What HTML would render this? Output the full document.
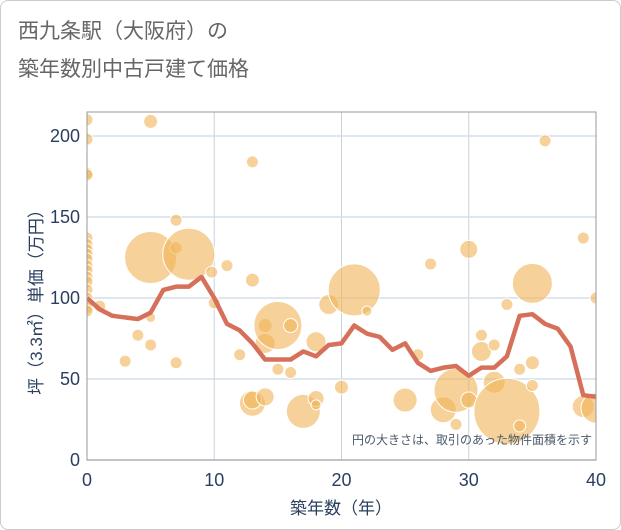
<!DOCTYPE html>
<html><head><meta charset="utf-8">
<style>
body{margin:0;background:#fff;}
#wrap{width:619px;height:528px;border:1px solid #ccc;border-radius:8px;position:relative;overflow:hidden;font-family:"Liberation Sans","Noto Sans CJK JP",sans-serif;}
</style></head><body>
<div id="wrap">
<svg id="chart" width="621" height="530" style="position:absolute;left:-1px;top:-1px">
<defs><clipPath id="plotclip"><rect x="87" y="112" width="509" height="348"/></clipPath></defs>
<text x="18" y="38" font-size="21" fill="#666" font-family="Liberation Sans, Noto Sans CJK JP, sans-serif">西九条駅（大阪府）の</text>
<text x="18" y="76" font-size="21" fill="#666" font-family="Liberation Sans, Noto Sans CJK JP, sans-serif">築年数別中古戸建て価格</text>
<g id="grid"></g><g id="bubbles" clip-path="url(#plotclip)"></g><g id="line" clip-path="url(#plotclip)"></g><g id="axes"></g>
<text x="592" y="444" font-size="12" fill="#4a5a6a" text-anchor="end" font-family="Liberation Sans, Noto Sans CJK JP, sans-serif">円の大きさは、取引のあった物件面積を示す</text>
<text x="341" y="514" font-size="17" fill="#2a3f5f" text-anchor="middle" font-family="Liberation Sans, Noto Sans CJK JP, sans-serif">築年数（年）</text>
<text transform="translate(42,298) rotate(-90)" font-size="17" fill="#2a3f5f" text-anchor="middle" font-family="Liberation Sans, Noto Sans CJK JP, sans-serif">坪（3.3㎡）単価（万円）</text>
</svg>
</div>
<script>
const xTicks=[0,10,20,30,40];
const yTicks=[0,50,100,150,200];
const lineYears=[0,1,2,3,4,5,6,7,8,9,10,11,12,13,14,15,16,17,18,19,20,21,22,23,24,25,26,27,28,29,30,31,32,33,34,35,36,37,38,39,40];
const lineValues=[100,93,89,88,87,91,105,107,107,113,100,84,80,72,62,62,62,67,64,71,72,83,78,76,68,72,60,55,57,58,52,57,57,64,89,90,84,81,70,40,39];
const bubbleX=[0,0,0,0,0,0,0,0,0,0,0,0,0,0,0,0,0,0,1,3,4,5,5,5,5,7,7,7,8,9.8,10,11,12,13,13,13,13,14,14,14,15,15,16,16,17,18,18,18,19,20,21,22,25,26,27,28,29,29,30,30,31,31,32,32,33,33,34,34,35,35,35,36,39,39,40,40];
const bubbleY=[210,198,177,176,137,133,130,127,124,120,117,113,110,105,100,97,94,92,95,61,77,209,125,88,71,148,131,60,127,116,97,120,65,184,111,35,37,83,72,39,83,56,83,54,30,38,73,34,96,45,105,92,37,65,121,31,43,22,130,37,77,67,71,48,30,96,56,21,109,60,46,197,137,33,100,32];
const bubbleR=[6,6,6,6,6,6,6,6,6,6,6,6,6,6,6,6,6,6,6,6,6,7,26,5,6,6,6,6,26,6,6,6,6,6,7,13,9,7,10,9,24,6,7,6,17,8,10,5,10,7,26,5,12,6,6,13,22,6,9,8,6,10,6,11,33,6,6,6,20,7,6,6,6,11,6,15];
const L=87,R=596,T=112,B=460;
const xs=v=>L+(R-L)*v/40, ys=v=>B-(B-136)*v/200;
const NS="http://www.w3.org/2000/svg";
function mk(tag,attrs,parent){const e=document.createElementNS(NS,tag);for(const k in attrs)e.setAttribute(k,attrs[k]);parent.appendChild(e);return e;}
const grid=document.getElementById('grid'),ax=document.getElementById('axes');
xTicks.forEach(t=>{
 const g=mk('line',{x1:xs(t),x2:xs(t),y1:T,y2:B,stroke:'#c8d2dc','stroke-width':1},grid);
 
 
 const tx=mk('text',{x:xs(t),y:486,'font-size':18,fill:'#2a3f5f','text-anchor':'middle'},ax);
 tx.textContent=t;
 
 
});
yTicks.forEach(t=>{
 const g=mk('line',{x1:L,x2:R,y1:ys(t),y2:ys(t),stroke:'#d4dfea','stroke-width':1.5},grid);
 
 
 const tx=mk('text',{x:80,y:ys(t)+6,'font-size':18,fill:'#2a3f5f','text-anchor':'end'},ax);
 tx.textContent=t;
 
 
});
const f=mk('rect',{x:L,y:T,width:R-L,height:B-T,fill:'none',stroke:'#999','stroke-width':1},ax);


const bg=document.getElementById('bubbles');
bubbleX.forEach((x,i)=>{
 const c=mk('circle',{cx:xs(x),cy:ys(bubbleY[i]),r:bubbleR[i],fill:'rgba(240,180,90,0.62)',stroke:'#fff','stroke-width':1},bg);
 
 
});
const p=mk('polyline',{points:lineYears.map((y,i)=>xs(y)+','+ys(lineValues[i])).join(' '),fill:'none',stroke:'#d6705a','stroke-width':4.5,'stroke-linejoin':'round'},document.getElementById('line'));


</script>
</body></html>
